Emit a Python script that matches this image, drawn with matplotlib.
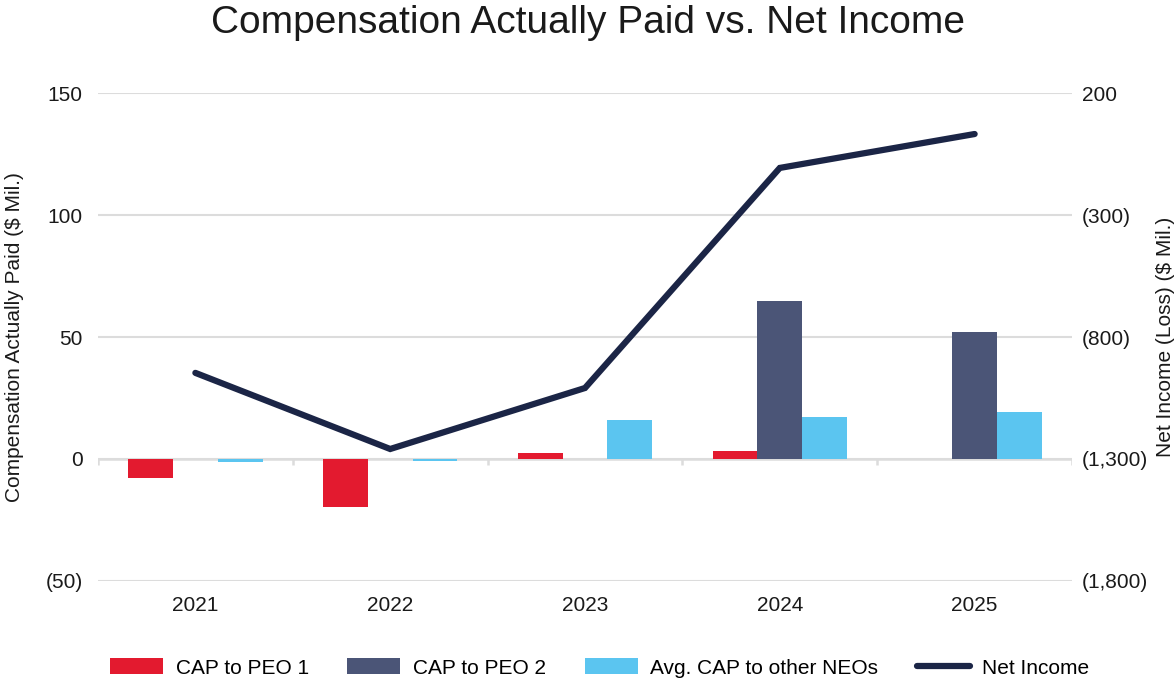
import matplotlib.pyplot as plt
from matplotlib.ticker import FuncFormatter
from matplotlib.lines import Line2D
from matplotlib.patches import Patch
import numpy as np

plt.rcParams['font.family'] = ['Liberation Sans', 'DejaVu Sans']

# ========== Data ==========
years = ['2021', '2022', '2023', '2024', '2025']
cap_peo1 = [-7.8, -19.7, 2.5, 3.3, 0.0]
cap_peo2 = [0.0, 0.0, 0.0, 64.8, 52.1]
cap_neos = [-1.3, -0.8, 16.0, 17.2, 19.3]
net_income = [-947, -1259, -1009, -107, 32]

left_ticks = [-50, 0, 50, 100, 150]
right_ticks = [-1800, -1300, -800, -300, 200]

# ========== Styles ==========
RED = '#E31A2F'
SLATE = '#4B5577'
SKY = '#5BC5F0'
NAVY = '#1B2546'
GRID = '#DCDCDC'
TEXT = '#1A1A1A'
FS = 15


def paren_fmt(v, pos):
    if v < 0:
        return f'({abs(v):,.0f})'
    return f'{v:,.0f}'


fig = plt.figure(figsize=(11.76, 6.8), dpi=100)
ax = fig.add_axes([0.0833, 0.1456, 0.8283, 0.7176])
ax2 = ax.twinx()

x = np.arange(len(years))
w = 0.23

ax.bar(x - w, cap_peo1, w, color=RED, zorder=3)
ax.bar(x, cap_peo2, w, color=SLATE, zorder=3)
ax.bar(x + w, cap_neos, w, color=SKY, zorder=3)

ax.set_xlim(-0.5, len(years) - 0.5)
ax.set_ylim(-50, 150)
ax.set_yticks(left_ticks)
ax.yaxis.set_major_formatter(FuncFormatter(paren_fmt))
ax.grid(axis='y', color=GRID, linewidth=1.5, zorder=0)
ax.axhline(0, color=GRID, linewidth=1.8, zorder=2)
# category boundary ticks on the zero line
for b in np.arange(-0.5, len(years) + 0.5, 1.0):
    ax.plot([b, b], [0, -2.5], color=GRID, linewidth=1.8, zorder=2,
            solid_capstyle='butt')

ax.set_xticks(x)
ax.set_xticklabels(years)
ax.tick_params(axis='x', length=0, pad=11, labelsize=FS, colors=TEXT)
ax.tick_params(axis='y', length=0, pad=11, labelsize=FS, colors=TEXT)
for s in ax.spines.values():
    s.set_visible(False)

ax2.plot(x, net_income, color=NAVY, linewidth=4.5, solid_capstyle='round',
         solid_joinstyle='miter', zorder=4)
ax2.set_ylim(-1800, 200)
ax2.set_yticks(right_ticks)
ax2.yaxis.set_major_formatter(FuncFormatter(paren_fmt))
ax2.tick_params(axis='y', length=0, pad=7, labelsize=FS, colors=TEXT)
for s in ax2.spines.values():
    s.set_visible(False)

ax.set_ylabel('Compensation Actually Paid ($ Mil.)', fontsize=FS, color=TEXT)
ax.yaxis.set_label_coords(-0.076, 0.5)
ax2.set_ylabel('Net Income (Loss) ($ Mil.)', fontsize=FS, color=TEXT,
               rotation=90)
ax2.yaxis.set_label_coords(1.086, 0.5)

fig.suptitle('Compensation Actually Paid vs. Net Income', fontsize=28,
             color=TEXT, y=0.993)

handles = [
    Patch(facecolor=RED, label='CAP to PEO 1'),
    Patch(facecolor=SLATE, label='CAP to PEO 2'),
    Patch(facecolor=SKY, label='Avg. CAP to other NEOs'),
    Line2D([0], [0], color=NAVY, linewidth=4.5, solid_capstyle='round',
           label='Net Income'),
]
fig.legend(handles=handles, loc='lower center', bbox_to_anchor=(0.51, -0.024),
           ncol=4, frameon=False, fontsize=FS, handlelength=2.55,
           handleheight=0.8, columnspacing=1.85, handletextpad=0.6)

fig.savefig('out.png', dpi=100)
